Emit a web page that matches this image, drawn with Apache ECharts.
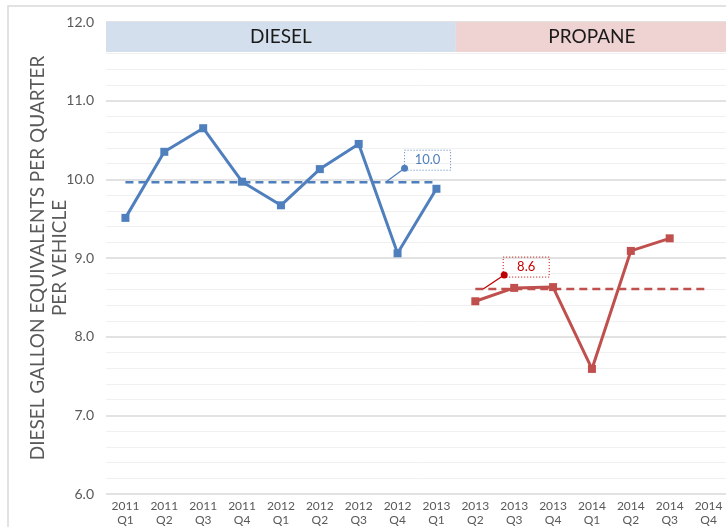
<!DOCTYPE html>
<html>
<head>
<meta charset="utf-8">
<script src="https://cdn.jsdelivr.net/npm/echarts@6/dist/echarts.min.js"></script>
<style>
html, body { margin: 0; padding: 0; background: #fff; }
#chart { width: 726px; height: 527px; }
</style>
</head>
<body>
<div id="chart"></div>
<script>
// data
var quarters = [
  "2011\nQ1", "2011\nQ2", "2011\nQ3", "2011\nQ4",
  "2012\nQ1", "2012\nQ2", "2012\nQ3", "2012\nQ4",
  "2013\nQ1", "2013\nQ2", "2013\nQ3", "2013\nQ4",
  "2014\nQ1", "2014\nQ2", "2014\nQ3", "2014\nQ4"
];
var dieselValues = [9.51, 10.35, 10.65, 9.97, 9.67, 10.13, 10.45, 9.06, 9.88];
var propaneValues = [8.45, 8.62, 8.63, 7.59, 9.09, 9.25];
var bandNames = ["DIESEL", "PROPANE"];
var bandStart = [0, 9];
var bandEnd = [8, 15];
var yTicks = [6, 7, 8, 9, 10, 11, 12];

var BLUE = "#4f7fbd";
var RED = "#c0504d";
var TEXT = "#595959";

function mean(arr) {
  var s = 0;
  arr.forEach(function(v) { s += v; });
  return s / arr.length;
}

var dieselAvg = mean(dieselValues);
var propaneAvg = mean(propaneValues);
var propaneOffset = dieselValues.length;

var dieselData = quarters.map(function(q, i) {
  return i < dieselValues.length ? dieselValues[i] : null;
});
var propaneData = quarters.map(function(q, i) {
  var j = i - propaneOffset;
  return j >= 0 && j < propaneValues.length ? propaneValues[j] : null;
});
var dieselAvgData = quarters.map(function(q, i) {
  return i >= bandStart[0] && i <= bandEnd[0] ? dieselAvg : null;
});
var propaneAvgData = quarters.map(function(q, i) {
  return i >= bandStart[1] && i <= bandEnd[1] ? propaneAvg : null;
});

var bandColors = ["#d3dfec", "#efd3d3"];
var bandAreas = bandNames.map(function(name, i) {
  return [
    { name: name, xAxis: bandStart[i], yAxis: 11.62, itemStyle: { color: bandColors[i] } },
    { xAxis: bandEnd[i], yAxis: 12 }
  ];
});

var chart = echarts.init(document.getElementById("chart"));

var option = {
  animation: false,
  backgroundColor: "#fff",
  textStyle: { fontFamily: "Lato" },
  grid: { left: 106, right: -2, top: 22, bottom: 33, containLabel: false, outerBoundsMode: "none" },
  xAxis: {
    type: "category",
    data: quarters,
    boundaryGap: true,
    axisLine: { show: false },
    axisTick: { show: false },
    axisLabel: { color: TEXT, fontSize: 12, lineHeight: 14, margin: 5, interval: 0 }
  },
  yAxis: {
    type: "value",
    min: yTicks[0],
    max: yTicks[yTicks.length - 1],
    interval: 1,
    name: "DIESEL GALLON EQUIVALENTS PER QUARTER\nPER VEHICLE",
    nameLocation: "middle",
    nameGap: 35,
    nameMoveOverlap: false,
    nameTextStyle: { color: TEXT, fontSize: 19, lineHeight: 22 },
    axisLine: { show: false },
    axisTick: { show: false },
    axisLabel: {
      color: TEXT, fontSize: 14, margin: 12,
      formatter: function(v) { return v.toFixed(1); }
    },
    splitLine: { lineStyle: { color: "#d9d9d9", width: 1.5 } },
    minorTick: { show: false, splitNumber: 5 },
    minorSplitLine: { show: true, lineStyle: { color: "#f0f0f0", width: 1 } }
  },
  series: [
    {
      name: "bands",
      type: "bar",
      data: [],
      markArea: {
        silent: true,
        label: { show: true, position: "inside", color: "#1a1a1a", fontSize: 19 },
        data: bandAreas
      }
    },
    {
      name: "Diesel",
      type: "line",
      data: dieselData,
      symbol: "rect",
      symbolSize: 8,
      lineStyle: { color: BLUE, width: 3 },
      itemStyle: { color: BLUE },
      z: 4
    },
    {
      name: "Propane",
      type: "line",
      data: propaneData,
      symbol: "rect",
      symbolSize: 8,
      lineStyle: { color: RED, width: 3 },
      itemStyle: { color: RED },
      z: 4
    },
    {
      name: "Diesel average",
      type: "line",
      data: dieselAvgData,
      symbol: "none",
      lineStyle: { color: BLUE, width: 2.5, type: [8, 5] },
      z: 3
    },
    {
      name: "Propane average",
      type: "line",
      data: propaneAvgData,
      symbol: "none",
      lineStyle: { color: RED, width: 2.5, type: [8, 5] },
      z: 3
    }
  ]
};

chart.setOption(option);

// callout boxes for the averages, anchored through the chart's own scales
function callout(idx, value, color, lead, dot, box) {
  var p = chart.convertToPixel({ gridIndex: 0 }, [idx, value]);
  var dx = p[0] + dot[0], dy = p[1] + dot[1];
  var bx = p[0] + box[0], by = p[1] + box[1];
  return [
    {
      type: "line", z: 10,
      shape: { x1: p[0] + lead, y1: p[1], x2: dx, y2: dy },
      style: { stroke: color, lineWidth: 1.3 }
    },
    {
      type: "circle", z: 11,
      shape: { cx: dx, cy: dy, r: 3.5 },
      style: { fill: color }
    },
    {
      type: "rect", z: 10,
      shape: { x: bx, y: by, width: 46, height: 20 },
      style: { fill: "rgba(255,255,255,0)", stroke: color, lineWidth: 1, lineDash: [1, 2] }
    },
    {
      type: "text", z: 11,
      x: bx + 23, y: by + 10,
      style: {
        text: value.toFixed(1), fill: color, font: "13px Lato",
        align: "center", verticalAlign: "middle"
      }
    }
  ];
}

var graphics = [
  {
    type: "rect", z: -10, silent: true,
    shape: { x: 8, y: 6, width: 740, height: 540 },
    style: { fill: "none", stroke: "#d9d9d9", lineWidth: 1.5 }
  }
]
  .concat(callout(7, dieselAvg, BLUE, -12, [7, -14], [7, -32]))
  .concat(callout(10, propaneAvg, "#c00000", -31, [-10, -14], [-11, -32]));

chart.setOption({ graphic: graphics });
</script>
</body>
</html>
